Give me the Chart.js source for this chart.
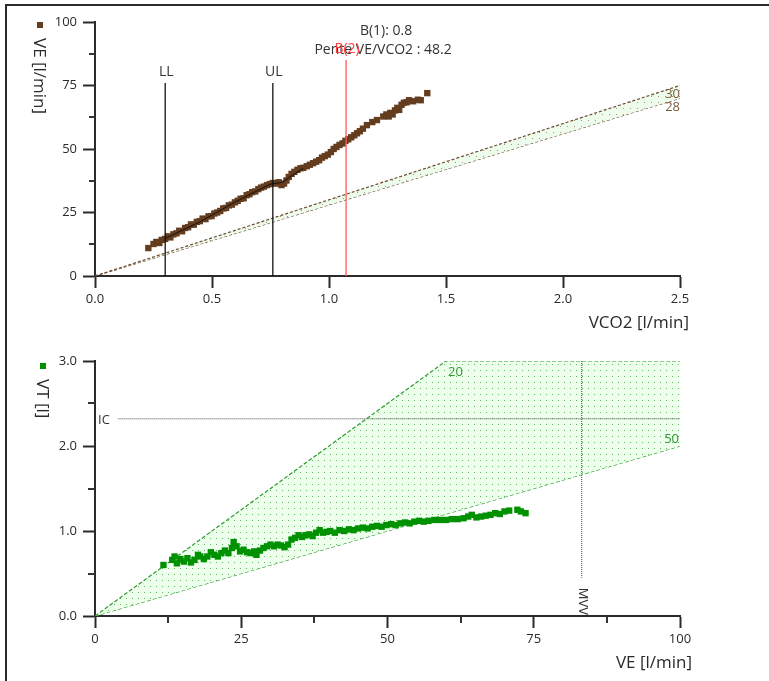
<!DOCTYPE html>
<html><head><meta charset="utf-8">
<script src="https://cdn.jsdelivr.net/npm/chart.js@4.4.1/dist/chart.umd.min.js"></script>
<style>
html,body{margin:0;padding:0;background:#fff;width:769px;height:681px;overflow:hidden}
#top{position:absolute;left:0;top:0}
#bot{position:absolute;left:0;top:340px}
#frame{position:absolute;left:5px;top:4px;width:770px;height:690px;border-left:2px solid #2b2b2b;border-top:2px solid #2b2b2b;pointer-events:none}
</style></head><body>
<canvas id="top" width="769" height="340"></canvas>
<canvas id="bot" width="769" height="341"></canvas>
<div id="frame"></div>
<script>
// ---------- TOP CHART DATA: VE vs VCO2 ----------
const vco2 = [0.228,0.250,0.262,0.275,0.285,0.300,0.312,0.322,0.335,0.348,0.360,0.372,0.385,0.398,0.410,0.422,0.435,0.448,0.460,0.472,0.485,0.498,0.510,0.522,0.535,0.548,0.560,0.572,0.585,0.598,0.610,0.622,0.635,0.648,0.660,0.672,0.685,0.698,0.710,0.722,0.735,0.748,0.760,0.772,0.785,0.797,0.808,0.818,0.828,0.840,0.852,0.865,0.878,0.890,0.905,0.918,0.932,0.945,0.958,0.970,0.982,0.995,1.008,1.020,1.032,1.045,1.058,1.070,1.082,1.095,1.108,1.120,1.132,1.145,1.162,1.185,1.205,1.232,1.245,1.255,1.262,1.272,1.282,1.292,1.300,1.310,1.320,1.332,1.342,1.360,1.380,1.392,1.420];
const veTop = [11.0,12.6,13.4,13.0,14.2,14.6,15.6,15.2,16.4,16.8,17.8,17.6,18.9,19.2,20.3,20.2,21.3,21.6,22.6,22.4,23.5,23.6,24.6,25.0,25.6,26.6,26.8,27.8,28.1,29.0,29.6,30.4,30.6,31.8,32.2,33.0,33.3,34.2,34.8,35.2,35.8,36.2,36.6,36.4,36.9,35.8,36.4,37.6,39.0,40.2,41.0,41.8,42.4,42.6,43.2,43.8,44.4,45.0,45.6,46.6,47.2,47.8,48.8,50.0,50.8,51.6,52.2,53.2,53.8,54.6,55.4,56.2,57.0,58.0,59.4,60.6,61.4,62.8,63.6,62.8,64.2,63.6,65.2,66.2,65.4,67.4,68.2,68.4,69.2,68.8,69.4,69.2,72.0];
const trendVco2 = [0.30,0.45,0.60,0.75,0.80,0.83,0.89];
const trendVe   = [14.8,21.4,29.2,36.2,36.8,38.8,42.4];
const topRatios = [30, 28];            // VE/VCO2 reference lines
const vco2Ticks = [0, 0.5, 1.0, 1.5, 2.0, 2.5];
const veTicksTop = [0, 25, 50, 75, 100];
const markerNames = ['LL', 'UL', 'B(2)'];
const markerVco2  = [0.30, 0.76, 1.073];
const markerTopVE = [76, 76, 85];
const annotB1 = 'B(1): 0.8';
const annotSlope = 'Pente VE/VCO2 : 48.2';

// ---------- BOTTOM CHART DATA: VT vs VE ----------
const veBot = [11.7,13.2,13.6,14.0,14.6,15.2,15.8,16.4,17.0,17.6,18.0,18.6,19.2,19.8,20.4,21.0,21.6,22.2,22.8,23.4,23.7,24.2,24.8,25.4,26.0,26.6,27.2,27.6,28.2,28.8,29.4,30.0,30.6,31.2,31.8,32.4,33.0,33.6,34.2,34.8,35.4,36.0,36.6,37.2,37.8,38.4,39.0,39.6,40.2,41.0,41.8,42.6,43.4,44.2,45.0,45.8,46.6,47.4,48.2,49.0,49.8,50.6,51.4,52.2,53.0,53.8,54.6,55.4,56.2,57.0,58.0,59.0,60.0,61.0,62.0,63.0,63.8,64.4,65.2,66.0,66.8,67.6,68.4,69.2,70.0,70.8,72.2,72.8,73.6];
const vtBot = [0.60,0.66,0.70,0.62,0.67,0.64,0.68,0.63,0.66,0.72,0.70,0.67,0.70,0.75,0.72,0.70,0.74,0.77,0.74,0.80,0.87,0.82,0.76,0.78,0.75,0.74,0.76,0.72,0.77,0.80,0.82,0.84,0.82,0.84,0.83,0.81,0.84,0.90,0.92,0.95,0.93,0.95,0.96,0.94,0.98,1.01,0.98,0.99,1.00,0.98,1.01,1.00,1.02,1.01,1.03,1.04,1.03,1.05,1.06,1.05,1.07,1.08,1.07,1.09,1.10,1.09,1.11,1.12,1.11,1.12,1.13,1.13,1.13,1.14,1.14,1.15,1.17,1.19,1.16,1.17,1.18,1.19,1.21,1.20,1.23,1.24,1.25,1.23,1.21];
const bandUpperVE = [0, 60, 100];     // VE/VT = 20 then VT max 3.0
const bandUpperVT = [0, 3.0, 3.0];
const bandLowerVE = [0, 100];         // VE/VT = 50
const bandLowerVT = [0, 2.0];
const bandLabels = ['20', '50'];
const icValue = 2.32, icStartVE = 4;
const mvvValue = 83.2, mvvBottomVT = 0.45;
const veTicksBot = [0, 25, 50, 75, 100];
const vtTicks = [0, 1.0, 2.0, 3.0];

// ---------- helpers ----------
const pts = (xs, ys) => xs.map((v, i) => ({x: v, y: ys[i]}));
const FONT = '"Open Sans", "Noto Sans", sans-serif';
Chart.defaults.font.family = FONT;
Chart.defaults.color = '#333';

function dotPattern(bg, dot, sx, sy) {
  const c = document.createElement('canvas'); c.width = sx; c.height = sy;
  const g = c.getContext('2d'); g.fillStyle = bg; g.fillRect(0, 0, sx, sy);
  g.fillStyle = dot; g.fillRect(0, 0, 1, 1);
  return g.createPattern(c, 'repeat');
}
const minorTicks = {
  id: 'minorTicks',
  afterDraw(chart, args, o) {
    const {ctx, chartArea: a, scales: {x, y}} = chart;
    ctx.save(); ctx.strokeStyle = '#333'; ctx.lineWidth = 2;
    (o.x || []).forEach(v => { const p = Math.round(x.getPixelForValue(v)); ctx.beginPath(); ctx.moveTo(p, a.bottom); ctx.lineTo(p, a.bottom + o.len); ctx.stroke(); });
    (o.y || []).forEach(v => { const p = Math.round(y.getPixelForValue(v)); ctx.beginPath(); ctx.moveTo(a.left, p); ctx.lineTo(a.left - o.len, p); ctx.stroke(); });
    ctx.restore();
  }
};
function axis(min, max, ticks, fmt, isX, fitSize) {
  return {
    type: 'linear', min, max,
    afterBuildTicks: s => { s.ticks = ticks.map(v => ({value: v})); },
    afterFit: s => { if (isX) s.height = fitSize; else s.width = fitSize; },
    border: {display: true, color: '#2a2a2a', width: 2},
    grid: {drawOnChartArea: false, drawTicks: true, tickLength: 12, tickWidth: 2, tickColor: '#2a2a2a'},
    ticks: {padding: isX ? 3 : 6, color: '#2a2a2a', font: {size: 13, family: FONT}, callback: fmt, maxRotation: 0, autoSkip: false}
  };
}
function rotText(ctx, txt, x, y, align) {
  ctx.save(); ctx.translate(x, y); ctx.rotate(Math.PI / 2);
  ctx.textAlign = align; ctx.textBaseline = 'middle'; ctx.fillText(txt, 0, 0); ctx.restore();
}

// ---------- TOP CHART ----------
const brown = '#643c1e';
const topBandFill = dotPattern('#edfced', '#a8927a', 7, 6);
const topDatasets = [
  {data: pts([0, 2.5], [0, topRatios[0] * 2.5]), showLine: true, borderColor: '#6e4a30', borderDash: [3, 2], borderWidth: 1.2, pointRadius: 0, fill: '+1', backgroundColor: topBandFill, order: 10},
  {data: pts([0, 2.5], [0, topRatios[1] * 2.5]), showLine: true, borderColor: '#6e4a30', borderDash: [3, 2], borderWidth: 1.2, pointRadius: 0, fill: false, order: 10},
  {data: pts(vco2, veTop), pointStyle: 'rect', pointRadius: 4.5, backgroundColor: brown, borderWidth: 0, order: 2},
  {data: pts(trendVco2, trendVe), showLine: true, borderColor: '#111', borderWidth: 1, pointRadius: 0, order: 1},
];
markerNames.forEach((n, i) => topDatasets.push({
  data: pts([markerVco2[i], markerVco2[i]], [0, markerTopVE[i]]), showLine: true,
  borderColor: n === 'B(2)' ? '#ff5a5a' : '#111', borderWidth: 1.3, pointRadius: 0, order: 0
}));
new Chart(document.getElementById('top'), {
  type: 'scatter',
  data: {datasets: topDatasets},
  options: {
    animation: false, responsive: false, events: [],
    layout: {padding: {left: 0, right: 89, top: 22, bottom: 0}},
    plugins: {legend: {display: false}, tooltip: {enabled: false}, minorTicks: {y: [12.5, 37.5, 62.5, 87.5], x: [], len: 6}},
    scales: {
      x: axis(0, 2.5, vco2Ticks, v => Number(v).toFixed(1), true, 64),
      y: axis(0, 100, veTicksTop, v => String(v), false, 95)
    }
  },
  plugins: [minorTicks, {
    id: 'topText',
    afterDraw(chart) {
      const {ctx, chartArea: a, scales: {x, y}} = chart;
      ctx.save();
      ctx.textBaseline = 'middle';
      ctx.fillStyle = '#2a2a2a'; ctx.font = '17px ' + FONT;
      ctx.textAlign = 'right'; ctx.fillText('VCO2 [l/min]', a.right + 9, 323);
      rotText(ctx, 'VE [l/min]', 39, 38, 'left');
      ctx.fillStyle = brown; ctx.fillRect(37, 22, 6, 6);
      ctx.font = '13px ' + FONT; ctx.fillStyle = '#7a5a3c'; ctx.textAlign = 'right';
      topRatios.forEach(r => ctx.fillText(String(r), a.right, y.getPixelForValue(r * 2.5) + 9));
      ctx.font = '14px ' + FONT; ctx.textAlign = 'center'; ctx.fillStyle = '#333';
      const bx = x.getPixelForValue(markerVco2[2]);
      ctx.fillText(annotB1, bx + 40, 31);
      ctx.fillText(annotSlope, bx + 37, 50);
      markerNames.forEach((n, i) => {
        ctx.fillStyle = n === 'B(2)' ? '#ff3c3c' : '#333';
        ctx.fillText(n, x.getPixelForValue(markerVco2[i]) + 1, y.getPixelForValue(markerTopVE[i]) - 11);
      });
      ctx.restore();
    }
  }]
});

// ---------- BOTTOM CHART ----------
const green = '#009100';
const botBandFill = dotPattern('#eeffee', '#5cbc5c', 6, 6);
const botDatasets = [
  {data: pts(bandUpperVE, bandUpperVT), showLine: true, borderColor: '#2c9c2c', borderDash: [4, 2], borderWidth: 1.2, pointRadius: 0, fill: '+1', backgroundColor: botBandFill, order: 10},
  {data: pts(bandLowerVE, bandLowerVT), showLine: true, borderColor: '#2c9c2c', borderDash: [4, 2], borderWidth: 1.2, pointRadius: 0, fill: false, order: 10},
  {data: pts([icStartVE, 100], [icValue, icValue]), showLine: true, borderColor: '#444', borderDash: [1, 1], borderWidth: 1, pointRadius: 0, order: 5},
  {data: pts([mvvValue, mvvValue], [3.0, mvvBottomVT]), showLine: true, borderColor: '#444', borderDash: [1, 1], borderWidth: 1, pointRadius: 0, order: 5},
  {data: pts(veBot, vtBot), pointStyle: 'rect', pointRadius: 4.5, backgroundColor: green, borderWidth: 0, order: 1},
];
new Chart(document.getElementById('bot'), {
  type: 'scatter',
  data: {datasets: botDatasets},
  options: {
    animation: false, responsive: false, events: [],
    layout: {padding: {left: 0, right: 89, top: 21, bottom: 0}},
    plugins: {legend: {display: false}, tooltip: {enabled: false}, minorTicks: {x: [12.5, 37.5, 62.5, 87.5], y: [0.5, 1.5, 2.5], len: 7}},
    scales: {
      x: axis(0, 100, veTicksBot, v => String(v), true, 65),
      y: axis(0, 3, vtTicks, v => Number(v).toFixed(1), false, 95)
    }
  },
  plugins: [minorTicks, {
    id: 'botText',
    afterDraw(chart) {
      const {ctx, chartArea: a, scales: {x, y}} = chart;
      ctx.save();
      ctx.textBaseline = 'middle';
      ctx.fillStyle = '#2a2a2a'; ctx.font = '17px ' + FONT;
      ctx.textAlign = 'right'; ctx.fillText('VE [l/min]', a.right + 12, 323);
      rotText(ctx, 'VT [l]', 42, 39, 'left');
      ctx.fillStyle = green; ctx.fillRect(40, 23, 6, 6);
      ctx.font = '13px ' + FONT; ctx.fillStyle = '#2f9a2f';
      ctx.textAlign = 'left'; ctx.fillText(bandLabels[0], x.getPixelForValue(bandUpperVE[1]) + 2, y.getPixelForValue(3.0) + 11);
      ctx.textAlign = 'right'; ctx.fillText(bandLabels[1], a.right - 1, y.getPixelForValue(bandLowerVT[1]) - 7);
      ctx.fillStyle = '#333';
      ctx.textAlign = 'left'; ctx.fillText('IC', a.left + 3, y.getPixelForValue(icValue) + 1);
      rotText(ctx, 'MVV', x.getPixelForValue(mvvValue) + 1, a.bottom - 1, 'right');
      ctx.restore();
    }
  }]
});
</script></body></html>
